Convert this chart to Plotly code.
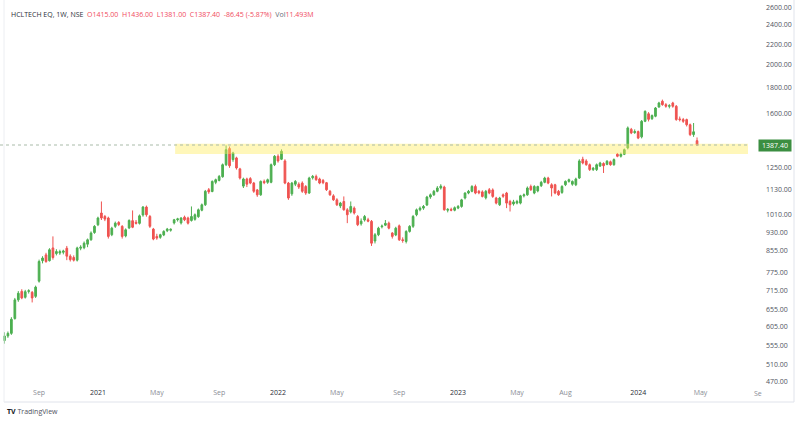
import math
import pandas as pd
import plotly.graph_objects as go

# ---------------- data (weekly OHLC) ----------------
week_start = "2020-06-29"
opens = [568, 580, 587, 628, 684, 711, 692, 711, 708, 695, 745, 818, 840, 818, 867, 845, 847, 850, 866, 835,
         830, 820, 866, 868, 882, 900, 930, 964,
         1017, 1001, 994, 921, 957, 974, 957, 916, 950, 982, 975, 970, 1008, 1045, 1001, 945, 914, 910, 920, 938,
         940, 972, 986, 972, 998, 994, 983, 988, 1000, 1030, 1056, 1131, 1122, 1170, 1180, 1200, 1268, 1365, 1298,
         1308, 1244, 1150, 1188, 1190, 1166, 1130, 1105, 1175, 1170, 1170, 1268, 1318, 1300, 1290, 1166, 1110, 1160,
         1160, 1166, 1148, 1114, 1195, 1202, 1188, 1180, 1168,
         1123, 1100, 1080, 1050, 1072, 1032, 1022, 1040, 1001, 968, 985, 986, 979, 895, 921, 955, 962, 971, 928, 920,
         959, 900, 893, 935, 957, 1009, 1032, 1040, 1055, 1094, 1105, 1123, 1140, 1145, 1030, 1034, 1030, 1040, 1048,
         1089, 1114, 1123, 1148, 1123, 1120, 1090, 1131, 1130, 1089,
         1056, 1105, 1114, 1072, 1060, 1064, 1064, 1100, 1105, 1148, 1114, 1125, 1152, 1170, 1193, 1157, 1157, 1123,
         1117, 1157, 1175, 1160, 1157, 1193, 1300, 1290, 1268, 1240, 1240, 1260, 1275, 1270, 1285, 1268, 1330, 1318,
         1330,
         1369, 1490, 1468, 1475, 1440, 1546, 1600, 1565, 1582, 1650, 1694, 1668, 1656, 1681, 1656, 1563, 1558, 1558,
         1522, 1455, 1415.00]
highs = [590, 592, 632, 690, 712, 718, 716, 718, 712, 730, 822, 835, 848, 866, 914, 862, 860, 860, 875, 842,
         838, 872, 878, 893, 905, 935, 962, 1000,
         1072, 1008, 1000, 955, 978, 980, 962, 948, 988, 1029, 985, 1010, 1050, 1052, 1008, 950, 925, 925, 940, 950,
         948, 990, 995, 998, 1005, 1000, 1048, 1015, 1038, 1062, 1130, 1140, 1180, 1190, 1210, 1275, 1385, 1378, 1345,
         1315, 1250, 1195, 1195, 1198, 1172, 1135, 1180, 1185, 1190, 1275, 1325, 1330, 1360, 1300, 1172, 1172, 1182,
         1170, 1175, 1155, 1200, 1210, 1212, 1195, 1188, 1172,
         1130, 1108, 1088, 1070, 1097, 1040, 1072, 1048, 1008, 992, 1008, 995, 985, 928, 955, 965, 985, 978, 932, 955,
         965, 910, 940, 962, 1008, 1038, 1048, 1055, 1100, 1112, 1130, 1150, 1160, 1152, 1040, 1042, 1048, 1055, 1085,
         1118, 1130, 1155, 1158, 1130, 1128, 1130, 1140, 1138, 1095,
         1095, 1112, 1120, 1080, 1080, 1080, 1105, 1112, 1148, 1158, 1155, 1152, 1178, 1200, 1200, 1165, 1162, 1130,
         1155, 1180, 1190, 1180, 1195, 1300, 1315, 1300, 1275, 1255, 1275, 1285, 1282, 1295, 1292, 1305, 1338, 1340,
         1365,
         1510, 1500, 1490, 1482, 1555, 1625, 1612, 1595, 1650, 1690, 1707, 1680, 1672, 1690, 1665, 1580, 1570, 1565,
         1530, 1534, 1436.00]
lows = [560, 575, 583, 625, 678, 686, 688, 704, 676, 690, 740, 808, 810, 815, 822, 838, 840, 842, 820, 815,
        815, 815, 858, 862, 870, 896, 925, 958,
        985, 980, 905, 915, 950, 958, 905, 910, 945, 949, 965, 965, 1000, 1000, 950, 898, 900, 904, 915, 932,
        934, 965, 978, 965, 980, 965, 978, 982, 995, 1025, 1050, 1110, 1118, 1160, 1175, 1195, 1260, 1250, 1285,
        1240, 1185, 1140, 1145, 1160, 1115, 1095, 1100, 1160, 1162, 1165, 1260, 1280, 1295, 1160, 1080, 1100, 1150,
        1135, 1115, 1105, 1110, 1185, 1178, 1160, 1160, 1125,
        1100, 1075, 1050, 1040, 1028, 971, 1015, 1010, 958, 960, 978, 975, 875, 885, 915, 948, 958, 944, 905, 915,
        895, 888, 885, 930, 950, 1002, 1025, 1032, 1050, 1085, 1100, 1118, 1132, 1028, 1020, 1025, 1025, 1035, 1042,
        1082, 1108, 1118, 1108, 1108, 1092, 1082, 1108, 1090, 1058,
        1050, 1090, 1040, 1024, 1052, 1058, 1058, 1092, 1100, 1125, 1108, 1118, 1145, 1165, 1160, 1097, 1108, 1100,
        1110, 1150, 1168, 1152, 1150, 1188, 1270, 1262, 1232, 1232, 1232, 1255, 1221, 1265, 1262, 1262, 1312, 1310,
        1325,
        1360, 1458, 1460, 1425, 1430, 1540, 1545, 1555, 1575, 1645, 1660, 1645, 1640, 1645, 1550, 1545, 1535, 1510,
        1445, 1440, 1381.00]
closes = [580, 587, 626, 684, 705, 690, 710, 713, 690, 725, 815, 828, 815, 860, 830, 853, 853, 855, 835, 822,
          820, 867, 870, 886, 900, 928, 957, 994,
          994, 989, 914, 949, 971, 965, 914, 942, 983, 953, 970, 1004, 1045, 1009, 957, 903, 907, 921, 935, 945,
          944, 986, 990, 994, 986, 971, 1001, 1009, 1032, 1056, 1123, 1120, 1175, 1184, 1202, 1268, 1358, 1262, 1338,
          1249, 1193, 1188, 1160, 1166, 1123, 1105, 1175, 1168, 1184, 1268, 1318, 1290, 1348, 1166, 1089, 1166, 1175,
          1145, 1123, 1114, 1193, 1202, 1184, 1166, 1168, 1131,
          1105, 1080, 1056, 1064, 1032, 1009, 1048, 1017, 964, 980, 1001, 980, 886, 921, 949, 958, 970, 949, 914, 949,
          900, 897, 935, 957, 1001, 1032, 1040, 1048, 1094, 1105, 1123, 1140, 1150, 1032, 1034, 1030, 1042, 1048, 1080,
          1114, 1123, 1148, 1114, 1115, 1097, 1123, 1114, 1097, 1064,
          1089, 1098, 1064, 1056, 1070, 1072, 1100, 1105, 1140, 1131, 1148, 1148, 1170, 1193, 1166, 1140, 1114, 1105,
          1148, 1175, 1184, 1175, 1188, 1290, 1278, 1268, 1240, 1248, 1268, 1278, 1262, 1288, 1268, 1298, 1318, 1330,
          1358,
          1500, 1466, 1475, 1432, 1546, 1618, 1560, 1587, 1643, 1681, 1668, 1656, 1660, 1656, 1558, 1558, 1546, 1522,
          1455, 1473.85, 1387.40]

weeks = pd.date_range(week_start, periods=len(opens), freq="7D")

y_tick_values = [470, 510, 555, 605, 655, 715, 775, 855, 930, 1010, 1130, 1250,
                 1600, 1800, 2000, 2200, 2400, 2600]
x_tick_dates = ["2020-09-07", "2021-01-04", "2021-05-03", "2021-09-06", "2022-01-03", "2022-05-02",
                "2022-09-05", "2023-01-02", "2023-05-01", "2023-08-07", "2024-01-01", "2024-05-06"]
x_tick_names = ["Sep", "2021", "May", "Sep", "2022", "May", "Sep", "2023", "May", "Aug", "2024", "May"]

zone_start = "2021-06-09"
zone_low, zone_high = 1331, 1395
last_price = 1387.40

# ---------------- styling / layout geometry ----------------
W, H = 800, 422
PLOT_R, PLOT_B = 748, 385          # pixel right / bottom edge of the price pane
x_range = ["2020-06-20", "2024-08-10"]
y_range = [2.66621, 3.42979]       # log10 range
UP, DOWN = "#4caf50", "#ef5350"
FONT = "Open Sans"


def px_x(px):
    return px / PLOT_R


def px_y(py):
    return (PLOT_B - py) / PLOT_B


fig = go.Figure()

# support / resistance zone
fig.add_trace(go.Scatter(
    x=[zone_start, x_range[1], x_range[1], zone_start, zone_start],
    y=[zone_low, zone_low, zone_high, zone_high, zone_low],
    fill="toself", fillcolor="rgba(255,236,90,0.42)", mode="lines",
    line=dict(width=0), hoverinfo="skip", showlegend=False))

# last price dotted line
fig.add_trace(go.Scatter(
    x=x_range, y=[last_price, last_price], mode="lines",
    line=dict(color="#a9bba9", width=1, dash="dot"), hoverinfo="skip", showlegend=False))

fig.add_trace(go.Candlestick(
    x=weeks, open=opens, high=highs, low=lows, close=closes,
    increasing=dict(line=dict(color=UP, width=1), fillcolor=UP),
    decreasing=dict(line=dict(color=DOWN, width=1), fillcolor=DOWN),
    whiskerwidth=0, showlegend=False))

tick_text = []
for t in x_tick_names:
    if t.isdigit():
        tick_text.append(f"<span style='color:#2a2e39'>{t}</span>")
    else:
        tick_text.append(f"<span style='color:#8a8d96'>{t}</span>")

fig.update_layout(
    width=W, height=H,
    margin=dict(l=0, r=W - PLOT_R, t=0, b=H - PLOT_B, autoexpand=False),
    paper_bgcolor="white", plot_bgcolor="white",
    font=dict(family=FONT, size=7, color="#4a4d57"),
    boxgap=0.3,
    xaxis=dict(type="date", range=x_range, rangeslider=dict(visible=False),
               tickvals=x_tick_dates, ticktext=tick_text, showgrid=False, zeroline=False,
               showline=False, ticks="", tickfont=dict(size=7), ticklabelstandoff=2),
    yaxis=dict(type="log", range=y_range, side="right", tickvals=y_tick_values,
               ticktext=[f"{v:.2f}" for v in y_tick_values], showgrid=False, zeroline=False,
               showline=False, ticks="", tickfont=dict(size=7, color="#50535e"),
               ticklabelstandoff=17),
    showlegend=False,
)

# chart frame lines (price axis right border, time axis bottom border)
fig.add_shape(type="line", xref="paper", yref="paper", x0=px_x(794), x1=px_x(794),
              y0=px_y(0), y1=px_y(402), line=dict(color="#e0e3eb", width=1))
fig.add_shape(type="line", xref="paper", yref="paper", x0=px_x(4), x1=px_x(794),
              y0=px_y(402), y1=px_y(402), line=dict(color="#e0e3eb", width=1))
fig.add_shape(type="line", xref="paper", yref="paper", x0=px_x(4), x1=px_x(4),
              y0=px_y(0), y1=px_y(402), line=dict(color="#eceef2", width=1))

red = "#f04a5c"
title = (f"<span style='color:#2a2e39'>HCLTECH EQ, 1W, NSE</span>  "
         f"<span style='color:{red}'>O{opens[-1]:.2f}</span>  "
         f"<span style='color:{red}'>H{highs[-1]:.2f}</span>  "
         f"<span style='color:{red}'>L{lows[-1]:.2f}</span>  "
         f"<span style='color:{red}'>C{closes[-1]:.2f}</span>  "
         f"<span style='color:{red}'>{closes[-1] - closes[-2]:.2f} "
         f"({(closes[-1] - closes[-2]) / closes[-2] * 100:.2f}%)</span>  "
         f"<span style='color:#6a6d78'>Vol</span><span style='color:{red}'>11.493M</span>")
fig.add_annotation(text=title, xref="paper", yref="paper", x=px_x(9), y=px_y(14),
                   xanchor="left", yanchor="middle", showarrow=False, font=dict(size=7))

price_frac = (math.log10(last_price) - y_range[0]) / (y_range[1] - y_range[0])
fig.add_annotation(text=f"{last_price:.2f}", xref="paper", yref="paper", x=px_x(775), y=price_frac,
                   xanchor="center", yanchor="middle", showarrow=False,
                   font=dict(size=7, color="white"), bgcolor="#3b8e41", width=30, height=9, borderpad=1)

fig.add_annotation(text="Se", xref="paper", yref="paper", x=px_x(752), y=px_y(393),
                   xanchor="left", yanchor="middle", showarrow=False, font=dict(size=7, color="#8a8d96"))

fig.add_annotation(text="<b>TV</b> <span style='color:#50535e'>TradingView</span>", xref="paper", yref="paper",
                   x=px_x(5), y=px_y(411), xanchor="left", yanchor="middle", showarrow=False,
                   font=dict(size=7, color="#131722"))

fig.write_html("out.html")
